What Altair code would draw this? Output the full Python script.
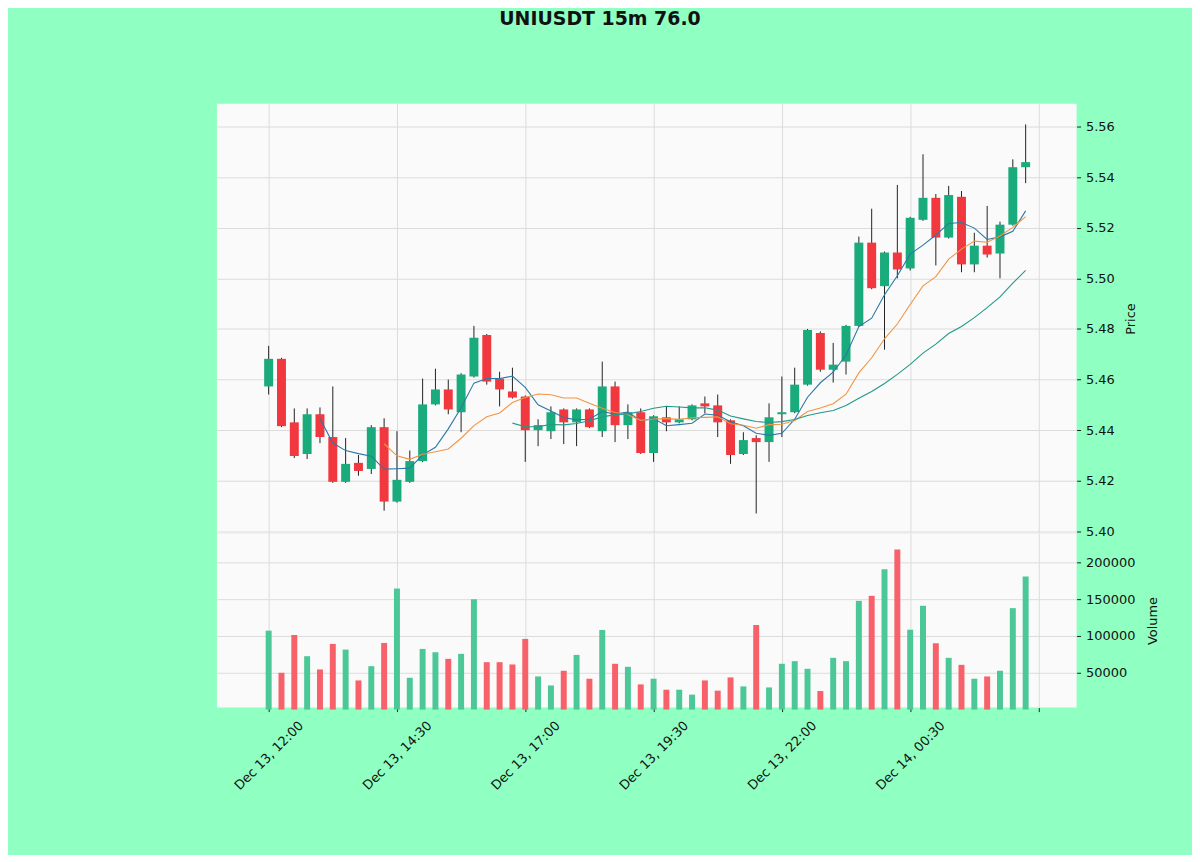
import altair as alt
import pandas as pd

opens = [5.4573, 5.4682, 5.4431, 5.4306, 5.4463, 5.4373, 5.4196, 5.4271, 5.4247, 5.4412,
         5.4118, 5.4196, 5.4278, 5.4502, 5.4561, 5.4471, 5.4612, 5.4776, 5.4604, 5.4553,
         5.4533, 5.4400, 5.4396, 5.4482, 5.4431, 5.4482, 5.4396, 5.4573, 5.4420, 5.4471,
         5.4310, 5.4451, 5.4431, 5.4443, 5.4506, 5.4498, 5.4439, 5.4306, 5.4369, 5.4353,
         5.4463, 5.4471, 5.4580, 5.4784, 5.4639, 5.4671, 5.4812, 5.5141, 5.4969, 5.5102,
         5.5039, 5.5231, 5.5318, 5.5161, 5.5322, 5.5055, 5.5129, 5.5098, 5.5212, 5.5439]
closes = [5.4682, 5.4416, 5.4298, 5.4463, 5.4373, 5.4196, 5.4267, 5.4239, 5.4412, 5.4118,
          5.4204, 5.4278, 5.4502, 5.4561, 5.4482, 5.4620, 5.4765, 5.4592, 5.4561, 5.4529,
          5.4400, 5.4420, 5.4471, 5.4431, 5.4482, 5.4412, 5.4573, 5.4420, 5.4471, 5.4310,
          5.4455, 5.4431, 5.4443, 5.4498, 5.4494, 5.4431, 5.4302, 5.4361, 5.4353, 5.4451,
          5.4471, 5.4580, 5.4796, 5.4639, 5.4659, 5.4812, 5.5141, 5.4961, 5.5102, 5.5035,
          5.5239, 5.5318, 5.5161, 5.5329, 5.5055, 5.5129, 5.5094, 5.5212, 5.5439, 5.5459]
highs = [5.4733, 5.4686, 5.4486, 5.4486, 5.4490, 5.4573, 5.4369, 5.4302, 5.4420, 5.4447,
         5.4396, 5.4320, 5.4604, 5.4643, 5.4600, 5.4625, 5.4812, 5.4780, 5.4631, 5.4647,
         5.4537, 5.4443, 5.4494, 5.4486, 5.4486, 5.4486, 5.4671, 5.4592, 5.4502, 5.4486,
         5.4459, 5.4494, 5.4494, 5.4502, 5.4533, 5.4541, 5.4443, 5.4392, 5.4380, 5.4506,
         5.4612, 5.4647, 5.4800, 5.4790, 5.4745, 5.4816, 5.5165, 5.5275, 5.5106, 5.5369,
         5.5243, 5.5490, 5.5333, 5.5365, 5.5345, 5.5180, 5.5286, 5.5224, 5.5470, 5.5608]
lows = [5.4541, 5.4412, 5.4290, 5.4286, 5.4349, 5.4192, 5.4192, 5.4220, 5.4227, 5.4082,
        5.4114, 5.4192, 5.4274, 5.4498, 5.4463, 5.4392, 5.4608, 5.4580, 5.4494, 5.4525,
        5.4275, 5.4337, 5.4365, 5.4345, 5.4337, 5.4408, 5.4373, 5.4353, 5.4365, 5.4306,
        5.4275, 5.4396, 5.4427, 5.4439, 5.4467, 5.4373, 5.4267, 5.4302, 5.4071, 5.4275,
        5.4373, 5.4467, 5.4576, 5.4631, 5.4588, 5.4620, 5.4808, 5.4957, 5.4718, 5.5000,
        5.5031, 5.5227, 5.5051, 5.5157, 5.5024, 5.5024, 5.5082, 5.5000, 5.5208, 5.5376]
volumes = [107200, 50000, 101300, 72500, 54500, 89200, 81500, 39600, 59000, 90500,
           164400, 43200, 82400, 77900, 68900, 75700, 150000, 64400, 64400, 61300,
           96000, 45000, 32800, 52700, 74300, 41900, 108100, 62200, 58100, 34200,
           41900, 27000, 27000, 20300, 39600, 25700, 43700, 31500, 114900, 30100,
           62200, 65800, 55400, 25200, 70300, 65800, 147700, 154500, 190500, 217600,
           108500, 141000, 90100, 70300, 60800, 41900, 45000, 52700, 137800, 180700]

tick_vals = [0, 10, 20, 30, 40, 50, 60]
tick_labels = ["Dec 13, 12:00", "Dec 13, 14:30", "Dec 13, 17:00", "Dec 13, 19:30",
               "Dec 13, 22:00", "Dec 14, 00:30", ""]
price_ticks = [5.40, 5.42, 5.44, 5.46, 5.48, 5.50, 5.52, 5.54, 5.56]
vol_ticks = [50000, 100000, 150000, 200000]

n = len(opens)
df = pd.DataFrame({
    "idx": list(range(n)),
    "open": opens, "high": highs, "low": lows, "close": closes, "volume": volumes,
})
df["dir"] = ["up" if c >= o else "down" for o, c in zip(opens, closes)]
df["vdir"] = ["vup" if c >= o else "vdown" for o, c in zip(opens, closes)]

UP, DOWN = "#19ab7c", "#f2383f"
VUP, VDOWN = "#4cc898", "#f7626a"
xdom = [-4.03, 62.97]
label_expr = "[" + ",".join("'%s'" % t for t in tick_labels) + "][round(datum.value/10)]"

base = alt.Chart(df)

x_top = alt.X("idx:Q", scale=alt.Scale(domain=xdom, nice=False, zero=False, padding=0),
              axis=alt.Axis(values=tick_vals, labels=False, ticks=False, domain=False,
                            grid=True, title=None, labelPadding=0, minExtent=0,
                            maxExtent=0, offset=0))
pscale = alt.Scale(domain=[5.3992, 5.5690], nice=False, zero=False, padding=0)
y_price = alt.Y("low:Q", scale=pscale,
                axis=alt.Axis(orient="right", values=price_ticks, format=".2f",
                              title="Price", titleAngle=270, titleBaseline="top",
                              labelPadding=5, titlePadding=10, grid=True))

wick = base.mark_rule(color="#222222", strokeWidth=1).encode(x=x_top, y=y_price, y2="high:Q")
body = base.mark_bar(size=9).encode(
    x=x_top,
    y=alt.Y("open:Q", scale=pscale),
    y2="close:Q",
    color=alt.Color("dir:N", scale=alt.Scale(domain=["up", "down"], range=[UP, DOWN]), legend=None),
)


def ma_line(w, col):
    return base.transform_window(
        ma="mean(close)", cnt="count()", frame=[-(w - 1), 0], sort=[alt.SortField("idx")]
    ).transform_filter("datum.cnt >= %d" % w).mark_line(color=col, strokeWidth=1.1).encode(
        x=x_top, y=alt.Y("ma:Q", scale=pscale)
    )


price = alt.layer(
    wick, body,
    ma_line(5, "#2b78a6"),
    ma_line(10, "#f39443"),
    ma_line(20, "#1f9a8a"),
).properties(width=864, height=432)

vol = base.mark_bar(size=6).encode(
    x=alt.X("idx:Q", scale=alt.Scale(domain=xdom, nice=False, zero=False, padding=0),
            axis=alt.Axis(values=tick_vals, labelExpr=label_expr, labelAngle=315,
                          labelAlign="center", labelBaseline="middle", labelPadding=44,
                          labelOverlap=False, labelFlush=False, tickSize=4, grid=True,
                          domain=False, title=None)),
    y=alt.Y("volume:Q", scale=alt.Scale(domain=[2700, 239190], nice=False, zero=False, padding=0),
            axis=alt.Axis(orient="right", values=vol_ticks, format="d", title="Volume",
                          titleAngle=270, titleBaseline="top", labelPadding=5,
                          titlePadding=12, grid=True)),
    color=alt.Color("vdir:N", scale=alt.Scale(domain=["vup", "vdown"], range=[VUP, VDOWN]), legend=None),
).properties(width=864, height=175)

chart = alt.vconcat(price, vol, spacing=0, bounds="flush").resolve_scale(color="independent").properties(
    title=alt.TitleParams(text="UNIUSDT 15m 76.0", fontSize=19, fontWeight="bold",
                          font="DejaVu Sans", color="#111111", anchor="middle",
                          offset=75, dx=-47, frame="group"),
    padding={"left": 210, "top": 0, "right": 32, "bottom": 60},
    background="#8fffc2",
).configure_view(fill="#fafafa", strokeWidth=0).configure_axis(
    labelFont="DejaVu Sans", labelFontSize=13, labelColor="#111111",
    tickColor="#222222", tickSize=4, gridColor="#dcdcdc", gridWidth=1, domain=False,
    titleFont="DejaVu Sans", titleFontSize=13, titleFontWeight="normal", titleColor="#111111",
).configure_concat(spacing=0)

chart.save("out.html", embed_options={"renderer": "svg", "actions": False})
